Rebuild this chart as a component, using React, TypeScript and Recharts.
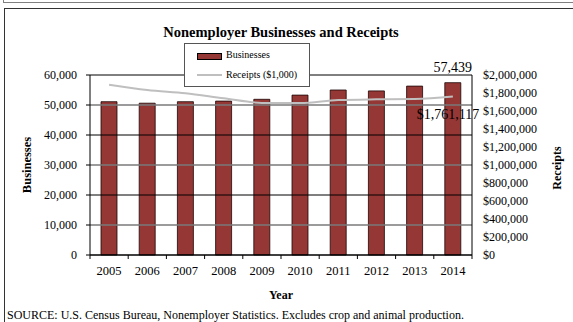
import React from "react";
import {
  ComposedChart, Bar, Line, XAxis, YAxis, Legend, ReferenceLine, LabelList,
} from "recharts";

const years      = ["2005", "2006", "2007", "2008", "2009", "2010", "2011", "2012", "2013", "2014"];
const businesses = [51100, 50600, 51100, 51300, 51900, 53300, 55000, 54700, 56300, 57439];
const receipts   = [1892000, 1833000, 1796000, 1741000, 1690000, 1688000, 1722000, 1730000, 1733000, 1761117];
const leftTicks  = [0, 10000, 20000, 30000, 40000, 50000, 60000];
const rightTicks = [0, 200000, 400000, 600000, 800000, 1000000, 1200000, 1400000, 1600000, 1800000, 2000000];

const data = years.map((year, i) => ({ year, businesses: businesses[i], receipts: receipts[i] }));

const FONT = "'Liberation Serif', 'Times New Roman', Times, serif";
const W = 573;
const H = 322;
const PLOT_L = 90;
const PLOT_R = 472;
const BAND = (PLOT_R - PLOT_L) / years.length;
const BAR_RED = "#953735";

const fmt = (n: number) => n.toLocaleString("en-US");

function YearTick({ x, y, payload, index }: any) {
  const last = index === years.length - 1;
  return (
    <g>
      <line x1={x - BAND / 2} x2={x - BAND / 2} y1={y} y2={y + 4} stroke="#000" />
      {last && <line x1={x + BAND / 2} x2={x + BAND / 2} y1={y} y2={y + 4} stroke="#000" />}
      <text x={x} y={y + 20} textAnchor="middle" fontSize={12.5} fontFamily={FONT} fill="#000">
        {payload.value}
      </text>
    </g>
  );
}

function BusinessLabel({ x, y, width, value, index }: any) {
  if (index !== years.length - 1) return null;
  return (
    <text x={x + width / 2} y={y - 11} textAnchor="middle" fontSize={14} fontFamily={FONT} fill="#000">
      {fmt(value)}
    </text>
  );
}

function ReceiptsLabel({ x, y, value, index }: any) {
  if (index !== years.length - 1) return null;
  return (
    <text x={x - 5} y={y + 23} textAnchor="middle" fontSize={14} fontFamily={FONT} fill="#000">
      ${fmt(value)}
    </text>
  );
}

function LegendBox() {
  return (
    <div style={{ position: "relative", width: "100%", height: "100%", fontFamily: FONT, fontSize: 10, color: "#000" }}>
      <div style={{ position: "absolute", left: 12, top: 9, width: 23, height: 5, background: BAR_RED, border: "1px solid #000" }} />
      <div style={{ position: "absolute", left: 41, top: 5, lineHeight: "12px" }}>Businesses</div>
      <div style={{ position: "absolute", left: 12, top: 30, width: 25, height: 2, background: "#bfbfbf" }} />
      <div style={{ position: "absolute", left: 41, top: 25, lineHeight: "12px" }}>Receipts ($1,000)</div>
    </div>
  );
}

export default function App() {
  return (
    <div style={{ position: "absolute", left: 0, top: 0, width: W, height: H, background: "#fff", overflow: "hidden", fontFamily: FONT }}>
      {/* frames */}
      <div style={{ position: "absolute", left: 3, top: -12, width: 640, height: 13, border: "1.5px solid #808080" }} />
      <div style={{ position: "absolute", left: 4, top: 8, width: 640, height: 400, border: "1.5px solid #333" }} />

      <div style={{ position: "absolute", left: 0, top: 23, width: 562, textAlign: "center", fontWeight: "bold", fontSize: 14.5, lineHeight: "18px" }}>
        Nonemployer Businesses and Receipts
      </div>

      <ComposedChart
        width={W}
        height={H}
        data={data}
        margin={{ top: 75, right: 0, bottom: 37, left: 0 }}
        style={{ position: "absolute", left: 0, top: 0 }}
      >
        {leftTicks.map((v) => (
          <ReferenceLine
            key={v}
            yAxisId="left"
            y={v}
            stroke={(v / 10000) % 2 === 1 ? "#7a7a7a" : "#000"}
            strokeWidth={(v / 10000) % 2 === 1 ? 1.6 : 1}
          />
        ))}

        <XAxis
          dataKey="year"
          height={30}
          tickLine={false}
          tickSize={0}
          tickMargin={0}
          axisLine={{ stroke: "#000" }}
          tick={<YearTick />}
          interval={0}
        />
        <YAxis
          yAxisId="left"
          orientation="left"
          width={PLOT_L}
          domain={[0, 60000]}
          ticks={leftTicks}
          tickFormatter={fmt}
          tick={{ fontSize: 12, fontFamily: FONT, fill: "#000" }}
          tickSize={4}
          tickMargin={9}
          tickLine={{ stroke: "#000" }}
          axisLine={{ stroke: "#000" }}
        />
        <YAxis
          yAxisId="right"
          orientation="right"
          width={W - PLOT_R}
          domain={[0, 2000000]}
          ticks={rightTicks}
          tickFormatter={(v) => `$${fmt(v)}`}
          tick={{ fontSize: 12, fontFamily: FONT, fill: "#000" }}
          tickSize={0}
          tickMargin={11}
          tickLine={false}
          axisLine={{ stroke: "#000" }}
          interval={0}
        />

        <Legend
          layout="horizontal"
          verticalAlign="middle"
          align="center"
          content={() => <LegendBox />}
          wrapperStyle={{ left: 184, top: 43, width: 126, height: 44, border: "1px solid #555", background: "#fff", boxSizing: "border-box" }}
        />

        <Bar
          yAxisId="left"
          dataKey="businesses"
          name="Businesses"
          fill={BAR_RED}
          stroke="#1a0505"
          strokeWidth={0.8}
          barSize={16}
          isAnimationActive={false}
        >
          <LabelList dataKey="businesses" content={<BusinessLabel />} />
        </Bar>
        <Line
          yAxisId="right"
          dataKey="receipts"
          name="Receipts ($1,000)"
          type="monotone"
          stroke="#bfbfbf"
          strokeWidth={2}
          dot={false}
          activeDot={false}
          isAnimationActive={false}
        >
          <LabelList dataKey="receipts" content={<ReceiptsLabel />} />
        </Line>
      </ComposedChart>

      <div style={{ position: "absolute", left: 27, top: 165, width: 0, height: 0 }}>
        <div style={{ position: "absolute", left: -50, top: -8, width: 100, textAlign: "center", fontWeight: "bold", fontSize: 12.5, lineHeight: "16px", transform: "rotate(-90deg)" }}>
          Businesses
        </div>
      </div>
      <div style={{ position: "absolute", left: 557, top: 168, width: 0, height: 0 }}>
        <div style={{ position: "absolute", left: -50, top: -8, width: 100, textAlign: "center", fontWeight: "bold", fontSize: 12, lineHeight: "16px", transform: "rotate(-90deg)" }}>
          Receipts
        </div>
      </div>

      <div style={{ position: "absolute", left: 0, top: 287, width: 562, textAlign: "center", fontWeight: "bold", fontSize: 12, lineHeight: "16px" }}>
        Year
      </div>
      <div style={{ position: "absolute", left: 7, top: 308, fontSize: 12, lineHeight: "15px", whiteSpace: "nowrap" }}>
        SOURCE: U.S. Census Bureau, Nonemployer Statistics. Excludes crop and animal production.
      </div>
    </div>
  );
}
